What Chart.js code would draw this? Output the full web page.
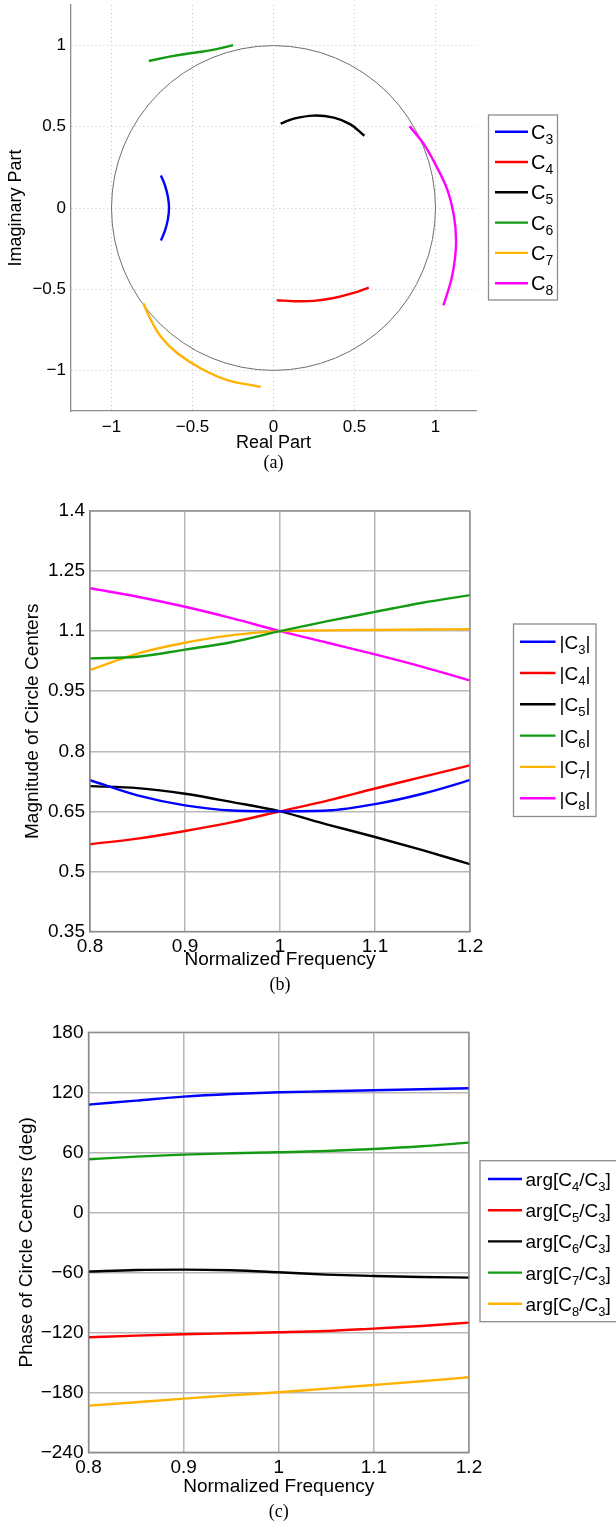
<!DOCTYPE html>
<html>
<head>
<meta charset="utf-8">
<script src="https://cdn.jsdelivr.net/npm/chart.js@4.4.1/dist/chart.umd.min.js"></script>
<style>
  html, body { margin: 0; padding: 0; background: #fff; }
  body { position: relative; width: 616px; height: 1522px; overflow: hidden; }
  canvas { position: absolute; left: 0; }
  #ca { top: 0; }
  #cb { top: 490px; }
  #cc { top: 1010px; }
</style>
</head>
<body>
<canvas id="ca" width="616" height="480"></canvas>
<canvas id="cb" width="616" height="510"></canvas>
<canvas id="cc" width="616" height="512"></canvas>
<script>
const FONT = "'Liberation Sans', Arial, sans-serif";
const SERIF = "'Liberation Serif', 'Times New Roman', serif";

// (a) circle centres in the complex plane
const c3Re = [-0.695, -0.670, -0.652, -0.645, -0.652, -0.670, -0.695];
const c3Im = [0.200, 0.140, 0.070, 0.000, -0.070, -0.140, -0.200];
const c4Re = [0.020, 0.126, 0.249, 0.372, 0.495, 0.588];
const c4Im = [-0.568, -0.574, -0.572, -0.554, -0.523, -0.490];
const c5Re = [0.044, 0.126, 0.249, 0.372, 0.475, 0.561];
const c5Im = [0.519, 0.550, 0.569, 0.556, 0.515, 0.445];
const c6Re = [-0.770, -0.633, -0.489, -0.366, -0.249];
const c6Im = [0.905, 0.934, 0.956, 0.975, 1.003];
const c7Re = [-0.803, -0.756, -0.694, -0.591, -0.448, -0.284, -0.079];
const c7Im = [-0.588, -0.691, -0.794, -0.896, -0.988, -1.060, -1.101];
const c8Re = [0.840, 0.926, 1.008, 1.074, 1.114, 1.127, 1.119, 1.098, 1.049];
const c8Im = [0.503, 0.396, 0.252, 0.110, -0.050, -0.199, -0.320, -0.440, -0.599];
const unitRadius = 1;
const namesA = ['C_3', 'C_4', 'C_5', 'C_6', 'C_7', 'C_8'];
const ticksA = [-1, -0.5, 0, 0.5, 1];

// (b) magnitude of circle centres
const freq = [0.8, 0.85, 0.9, 0.95, 1.0, 1.05, 1.1, 1.15, 1.2];
const magC3 = [0.728, 0.690, 0.665, 0.652, 0.650, 0.652, 0.668, 0.694, 0.728];
const magC4 = [0.568, 0.582, 0.601, 0.623, 0.650, 0.677, 0.707, 0.736, 0.765];
const magC5 = [0.713, 0.708, 0.694, 0.673, 0.650, 0.617, 0.586, 0.553, 0.518];
const magC6 = [1.032, 1.036, 1.054, 1.073, 1.100, 1.125, 1.148, 1.171, 1.190];
const magC7 = [1.003, 1.044, 1.071, 1.090, 1.100, 1.102, 1.103, 1.104, 1.105];
const magC8 = [1.207, 1.186, 1.161, 1.132, 1.100, 1.071, 1.042, 1.011, 0.977];
const namesB = ['|C_3|', '|C_4|', '|C_5|', '|C_6|', '|C_7|', '|C_8|'];
const ticksFreq = [0.8, 0.9, 1, 1.1, 1.2];
const ticksMag = [0.35, 0.5, 0.65, 0.8, 0.95, 1.1, 1.25, 1.4];

// (c) phase of circle centres (deg)
const argC4C3 = [107.7, 111.7, 115.7, 118.3, 120.0, 121.0, 122.0, 123.0, 124.0];
const argC5C3 = [-125.0, -123.3, -122.0, -121.0, -120.0, -118.7, -116.3, -113.7, -110.3];
const argC6C3 = [-59.3, -57.7, -57.3, -58.0, -60.0, -62.3, -63.7, -64.7, -65.3];
const argC7C3 = [53.0, 55.7, 57.7, 59.0, 60.0, 61.3, 63.3, 66.0, 69.7];
const argC8C3 = [-193.3, -190.0, -186.3, -183.0, -180.0, -176.3, -172.7, -169.0, -165.0];
const namesC = ['arg[C_4/C_3]', 'arg[C_5/C_3]', 'arg[C_6/C_3]', 'arg[C_7/C_3]', 'arg[C_8/C_3]'];
const ticksPhase = [-240, -180, -120, -60, 0, 60, 120, 180];

const BLUE = '#0000ff', RED = '#ff0000', BLACK = '#000000',
      GREEN = '#139b13', ORANGE = '#ffb300', MAGENTA = '#ff00ff';

Chart.defaults.font.family = FONT;
Chart.defaults.color = '#000';

function pairs(xs, ys) {
    return xs.map((x, i) => ({ x: x, y: ys[i] }));
}

const fmt = v => String(v).replace('-', '\u2212');

function fixWidth(w) {
    return s => { s.width = w; s.paddingTop = 0; s.paddingBottom = 0; s.paddingLeft = 0; s.paddingRight = 0; };
}
function fixHeight(h) {
    return s => { s.height = h; s.paddingTop = 0; s.paddingBottom = 0; s.paddingLeft = 0; s.paddingRight = 0; };
}
function setTicks(list) {
    return s => { s.ticks = list.map(v => ({ value: v })); };
}

// text with one-character subscripts written as _n
function drawRich(ctx, markup, x, y, size, subSize, drop) {
    let i = 0;
    while (i < markup.length) {
        if (markup[i] === '_') {
            const s = markup[i + 1];
            ctx.font = subSize + 'px ' + FONT;
            ctx.fillText(s, x, y + drop);
            x += ctx.measureText(s).width;
            i += 2;
        } else {
            let j = markup.indexOf('_', i);
            if (j < 0) j = markup.length;
            const t = markup.slice(i, j);
            ctx.font = size + 'px ' + FONT;
            ctx.fillText(t, x, y);
            x += ctx.measureText(t).width;
            i = j;
        }
    }
}

const extras = {
    id: 'extras',
    beforeDatasetsDraw(chart, args, o) {
        if (!o.circle) return;
        const ctx = chart.ctx, xs = chart.scales.x, ys = chart.scales.y;
        const cx = xs.getPixelForValue(0), cy = ys.getPixelForValue(0);
        const rx = xs.getPixelForValue(unitRadius) - cx;
        const ry = cy - ys.getPixelForValue(unitRadius);
        ctx.save();
        ctx.strokeStyle = '#6e6e6e';
        ctx.lineWidth = 1;
        ctx.beginPath();
        ctx.ellipse(cx, cy, rx, ry, 0, 0, 2 * Math.PI);
        ctx.stroke();
        ctx.restore();
    },
    afterDraw(chart, args, o) {
        const ctx = chart.ctx, a = chart.chartArea;
        ctx.save();
        if (o.box) {
            ctx.strokeStyle = '#8c8c8c';
            ctx.lineWidth = 1.3;
            ctx.strokeRect(a.left, a.top, a.right - a.left, a.bottom - a.top);
        }
        ctx.font = '18px ' + SERIF;
        ctx.fillStyle = '#000';
        ctx.textAlign = 'center';
        ctx.textBaseline = 'middle';
        ctx.fillText(o.caption, (a.left + a.right) / 2, o.captionY);

        const L = o.legend;
        ctx.fillStyle = '#fff';
        ctx.fillRect(L.x, L.y, L.w, L.h);
        ctx.strokeStyle = '#8c8c8c';
        ctx.lineWidth = 1.3;
        ctx.strokeRect(L.x, L.y, L.w, L.h);
        ctx.textAlign = 'left';
        ctx.textBaseline = 'alphabetic';
        chart.data.datasets.forEach((ds, i) => {
            const y = L.row0 + i * L.step;
            ctx.strokeStyle = ds.borderColor;
            ctx.lineWidth = 2.4;
            ctx.beginPath();
            ctx.moveTo(L.x0, y);
            ctx.lineTo(L.x1, y);
            ctx.stroke();
            ctx.fillStyle = '#000';
            drawRich(ctx, L.names[i], L.tx, y + L.base, L.size, L.sub, L.drop);
        });
        ctx.restore();
    }
};

function line(label, color, points, smooth) {
    const ds = {
        label: label,
        data: points,
        borderColor: color,
        backgroundColor: color,
        borderWidth: 2.4,
        pointRadius: 0,
        showLine: true,
        fill: false
    };
    if (smooth) ds.cubicInterpolationMode = 'monotone';
    else ds.tension = 0.4;
    return ds;
}

const common = {
    responsive: false,
    animation: false,
    devicePixelRatio: 1,
    events: []
};

// ---------- (a)
new Chart(document.getElementById('ca'), {
    type: 'scatter',
    data: {
        datasets: [
            line('C3', BLUE, pairs(c3Re, c3Im)),
            line('C4', RED, pairs(c4Re, c4Im)),
            line('C5', BLACK, pairs(c5Re, c5Im)),
            line('C6', GREEN, pairs(c6Re, c6Im)),
            line('C7', ORANGE, pairs(c7Re, c7Im)),
            line('C8', MAGENTA, pairs(c8Re, c8Im))
        ]
    },
    options: Object.assign({}, common, {
        layout: { padding: { left: 0, top: 5, right: 140, bottom: 0 } },
        scales: {
            x: {
                min: -1.25, max: 1.25,
                afterBuildTicks: setTicks(ticksA),
                afterFit: fixHeight(69),
                grid: { color: '#c4c4c4', lineWidth: 1, drawTicks: false },
                border: { color: '#8c8c8c', width: 1.3, dash: [1, 3] },
                ticks: { font: { size: 17 }, padding: 6, maxRotation: 0, callback: fmt },
                title: { display: true, text: 'Real Part', font: { size: 18 }, padding: { top: 0, bottom: 26 } }
            },
            y: {
                min: -1.25, max: 1.25,
                afterBuildTicks: setTicks(ticksA),
                afterFit: fixWidth(71),
                grid: { color: '#c4c4c4', lineWidth: 1, drawTicks: false },
                border: { color: '#8c8c8c', width: 1.3, dash: [1, 3] },
                ticks: { font: { size: 17 }, padding: 5, callback: fmt },
                title: { display: true, text: 'Imaginary Part', font: { size: 18 }, padding: { top: 5, bottom: 0 } }
            }
        },
        plugins: {
            legend: { display: false },
            tooltip: { enabled: false },
            extras: {
                circle: true, box: false, caption: '(a)', captionY: 463,
                legend: { x: 488.5, y: 115, w: 69, h: 185, x0: 495, x1: 528, tx: 531,
                          row0: 131.7, step: 30.3, base: 7, drop: 5, size: 20, sub: 14, names: namesA }
            }
        }
    }),
    plugins: [extras]
});

// ---------- (b)
new Chart(document.getElementById('cb'), {
    type: 'scatter',
    data: {
        datasets: [
            line('|C3|', BLUE, pairs(freq, magC3), true),
            line('|C4|', RED, pairs(freq, magC4), true),
            line('|C5|', BLACK, pairs(freq, magC5), true),
            line('|C6|', GREEN, pairs(freq, magC6), true),
            line('|C7|', ORANGE, pairs(freq, magC7), true),
            line('|C8|', MAGENTA, pairs(freq, magC8), true)
        ]
    },
    options: Object.assign({}, common, {
        layout: { padding: { left: 0, top: 21, right: 146, bottom: 0 } },
        scales: {
            x: {
                min: 0.8, max: 1.2,
                afterBuildTicks: setTicks(ticksFreq),
                afterFit: fixHeight(68.5),
                grid: { color: '#b8b8b8', lineWidth: 1.5, drawTicks: false },
                border: { color: '#8c8c8c', width: 1.3 },
                ticks: { font: { size: 19 }, padding: 4, maxRotation: 0, callback: fmt },
                title: { display: true, text: 'Normalized Frequency', font: { size: 19 }, padding: { top: 0, bottom: 28.6 } }
            },
            y: {
                min: 0.35, max: 1.4,
                afterBuildTicks: setTicks(ticksMag),
                afterFit: fixWidth(90),
                grid: { color: '#b8b8b8', lineWidth: 1.5, drawTicks: false },
                border: { color: '#8c8c8c', width: 1.3 },
                ticks: { font: { size: 19 }, padding: 5, callback: fmt },
                title: { display: true, text: 'Magnitude of Circle Centers', font: { size: 19 }, padding: { top: 21.6, bottom: 0 } }
            }
        },
        plugins: {
            legend: { display: false },
            tooltip: { enabled: false },
            extras: {
                circle: false, box: true, caption: '(b)', captionY: 495,
                legend: { x: 513.5, y: 134, w: 82.5, h: 192.5, x0: 520, x1: 555.5, tx: 559.5,
                          row0: 151.7, step: 31.3, base: 7, drop: 5, size: 19, sub: 13, names: namesB }
            }
        }
    }),
    plugins: [extras]
});

// ---------- (c)
new Chart(document.getElementById('cc'), {
    type: 'scatter',
    data: {
        datasets: [
            line('arg[C4/C3]', BLUE, pairs(freq, argC4C3), true),
            line('arg[C5/C3]', RED, pairs(freq, argC5C3), true),
            line('arg[C6/C3]', BLACK, pairs(freq, argC6C3), true),
            line('arg[C7/C3]', GREEN, pairs(freq, argC7C3), true),
            line('arg[C8/C3]', ORANGE, pairs(freq, argC8C3), true)
        ]
    },
    options: Object.assign({}, common, {
        layout: { padding: { left: 0, top: 22.3, right: 147, bottom: 0 } },
        scales: {
            x: {
                min: 0.8, max: 1.2,
                afterBuildTicks: setTicks(ticksFreq),
                afterFit: fixHeight(69.7),
                grid: { color: '#b8b8b8', lineWidth: 1.5, drawTicks: false },
                border: { color: '#8c8c8c', width: 1.3 },
                ticks: { font: { size: 19 }, padding: 4, maxRotation: 0, callback: fmt },
                title: { display: true, text: 'Normalized Frequency', font: { size: 19 }, padding: { top: 0, bottom: 23.9 } }
            },
            y: {
                min: -240, max: 180,
                afterBuildTicks: setTicks(ticksPhase),
                afterFit: fixWidth(88.5),
                grid: { color: '#b8b8b8', lineWidth: 1.5, drawTicks: false },
                border: { color: '#8c8c8c', width: 1.3 },
                ticks: { font: { size: 19 }, padding: 5, callback: fmt },
                title: { display: true, text: 'Phase of Circle Centers (deg)', font: { size: 19 }, padding: { top: 15.1, bottom: 0 } }
            }
        },
        plugins: {
            legend: { display: false },
            tooltip: { enabled: false },
            extras: {
                circle: false, box: true, caption: '(c)', captionY: 502,
                legend: { x: 480, y: 150.7, w: 140, h: 161, x0: 488, x1: 522, tx: 525.5,
                          row0: 169, step: 31.2, base: 7, drop: 5, size: 19, sub: 13, names: namesC }
            }
        }
    }),
    plugins: [extras]
});
</script>
</body>
</html>
